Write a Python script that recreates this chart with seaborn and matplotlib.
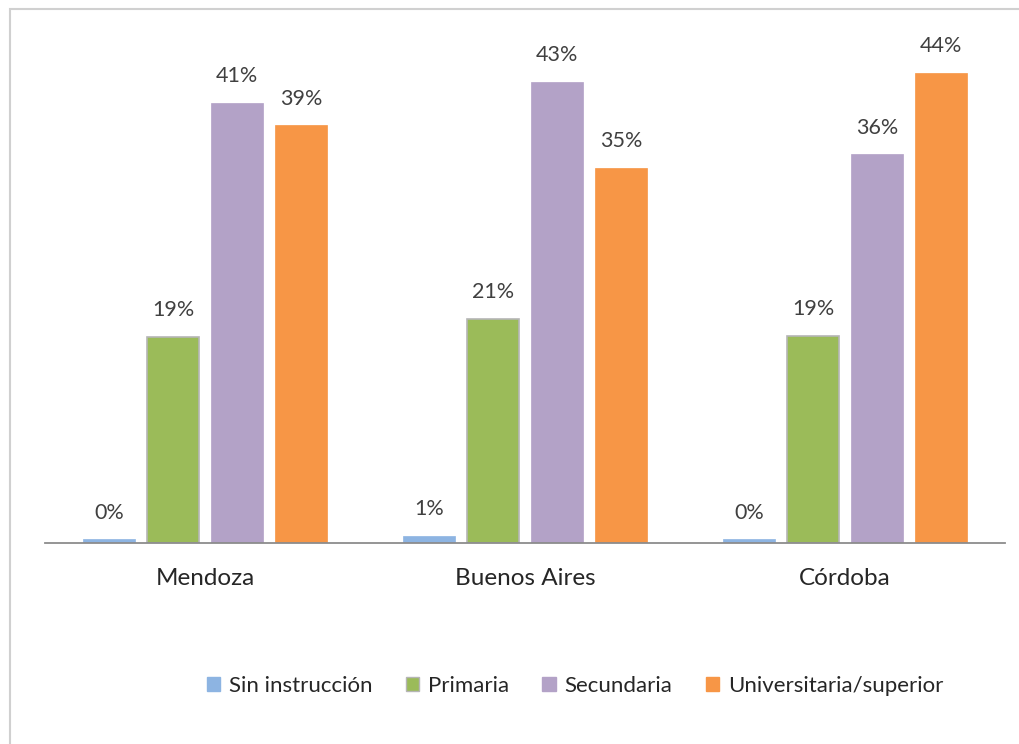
import matplotlib
matplotlib.use('Agg')
import matplotlib.pyplot as plt
from matplotlib.patches import Rectangle
import seaborn as sns
import pandas as pd

# Data (percent)
provincias = ['Mendoza', 'Buenos Aires', 'Córdoba']
niveles = ['Sin instrucción', 'Primaria', 'Secundaria', 'Universitaria/superior']
sin_instruccion = [0.35, 0.7, 0.35]
primaria = [19.3, 21.0, 19.4]
secundaria = [41.2, 43.2, 36.4]
universitaria = [39.1, 35.1, 44.0]

colores = ['#8DB4E2', '#9BBB59', '#B3A2C7', '#F79646']

rows = []
for nivel, vals in zip(niveles, [sin_instruccion, primaria, secundaria, universitaria]):
    for prov, v in zip(provincias, vals):
        rows.append({'provincia': prov, 'nivel': nivel, 'valor': v})
df = pd.DataFrame(rows)

sns.set_style('white')
plt.rcParams['font.family'] = ['Lato', 'DejaVu Sans']

fig = plt.figure(figsize=(10.19, 7.44), dpi=100)
ax = fig.add_axes([45 / 1019, (744 - 543) / 744, 960 / 1019, 513 / 744])

sns.barplot(data=df, x='provincia', y='valor', hue='nivel', order=provincias,
            hue_order=niveles, palette=colores, width=0.8, gap=0.2,
            saturation=1, legend=False, ax=ax)

ax.set_xlim(-0.5, 2.5)
ax.set_ylim(0, 513 / 10.68)

for cont, nivel, col in zip(ax.containers, niveles, colores):
    vals = df[df['nivel'] == nivel]['valor'].tolist()
    ax.bar_label(cont, labels=['%d%%' % round(v) for v in vals], padding=12,
                 fontsize=15.5, color='#404040')
    for bar in cont:
        if nivel == 'Primaria':
            bar.set_edgecolor('#b5b5b5')
            bar.set_linewidth(1.2)
        else:
            bar.set_edgecolor(col)
            bar.set_linewidth(0.5)

ax.set(xlabel=None, ylabel=None)
ax.set_yticks([])
ax.tick_params(axis='x', length=0, pad=18, labelsize=17.5, labelcolor='#262626')
for s in ['left', 'top', 'right']:
    ax.spines[s].set_visible(False)
ax.spines['bottom'].set_color('#8c8c8c')
ax.spines['bottom'].set_linewidth(1.3)

handles = [Rectangle((0, 0), 1, 1, facecolor=c, edgecolor='#b5b5b5' if n == 'Primaria' else c)
           for c, n in zip(colores, niveles)]
fig.legend(handles, niveles, loc='center', bbox_to_anchor=(575 / 1019, 1 - 686 / 744),
           ncol=4, frameon=False, fontsize=16, handlelength=0.6, handleheight=0.6,
           handletextpad=0.4, columnspacing=1.5, labelcolor='#262626')

# outer chart-area border
fig.patches.append(Rectangle((10 / 1019, -0.1), 1.2, (744 - 9) / 744 + 0.1,
                             transform=fig.transFigure, fill=False,
                             edgecolor='#d0d0d0', linewidth=1.5))

plt.savefig('out.png', dpi=100)
